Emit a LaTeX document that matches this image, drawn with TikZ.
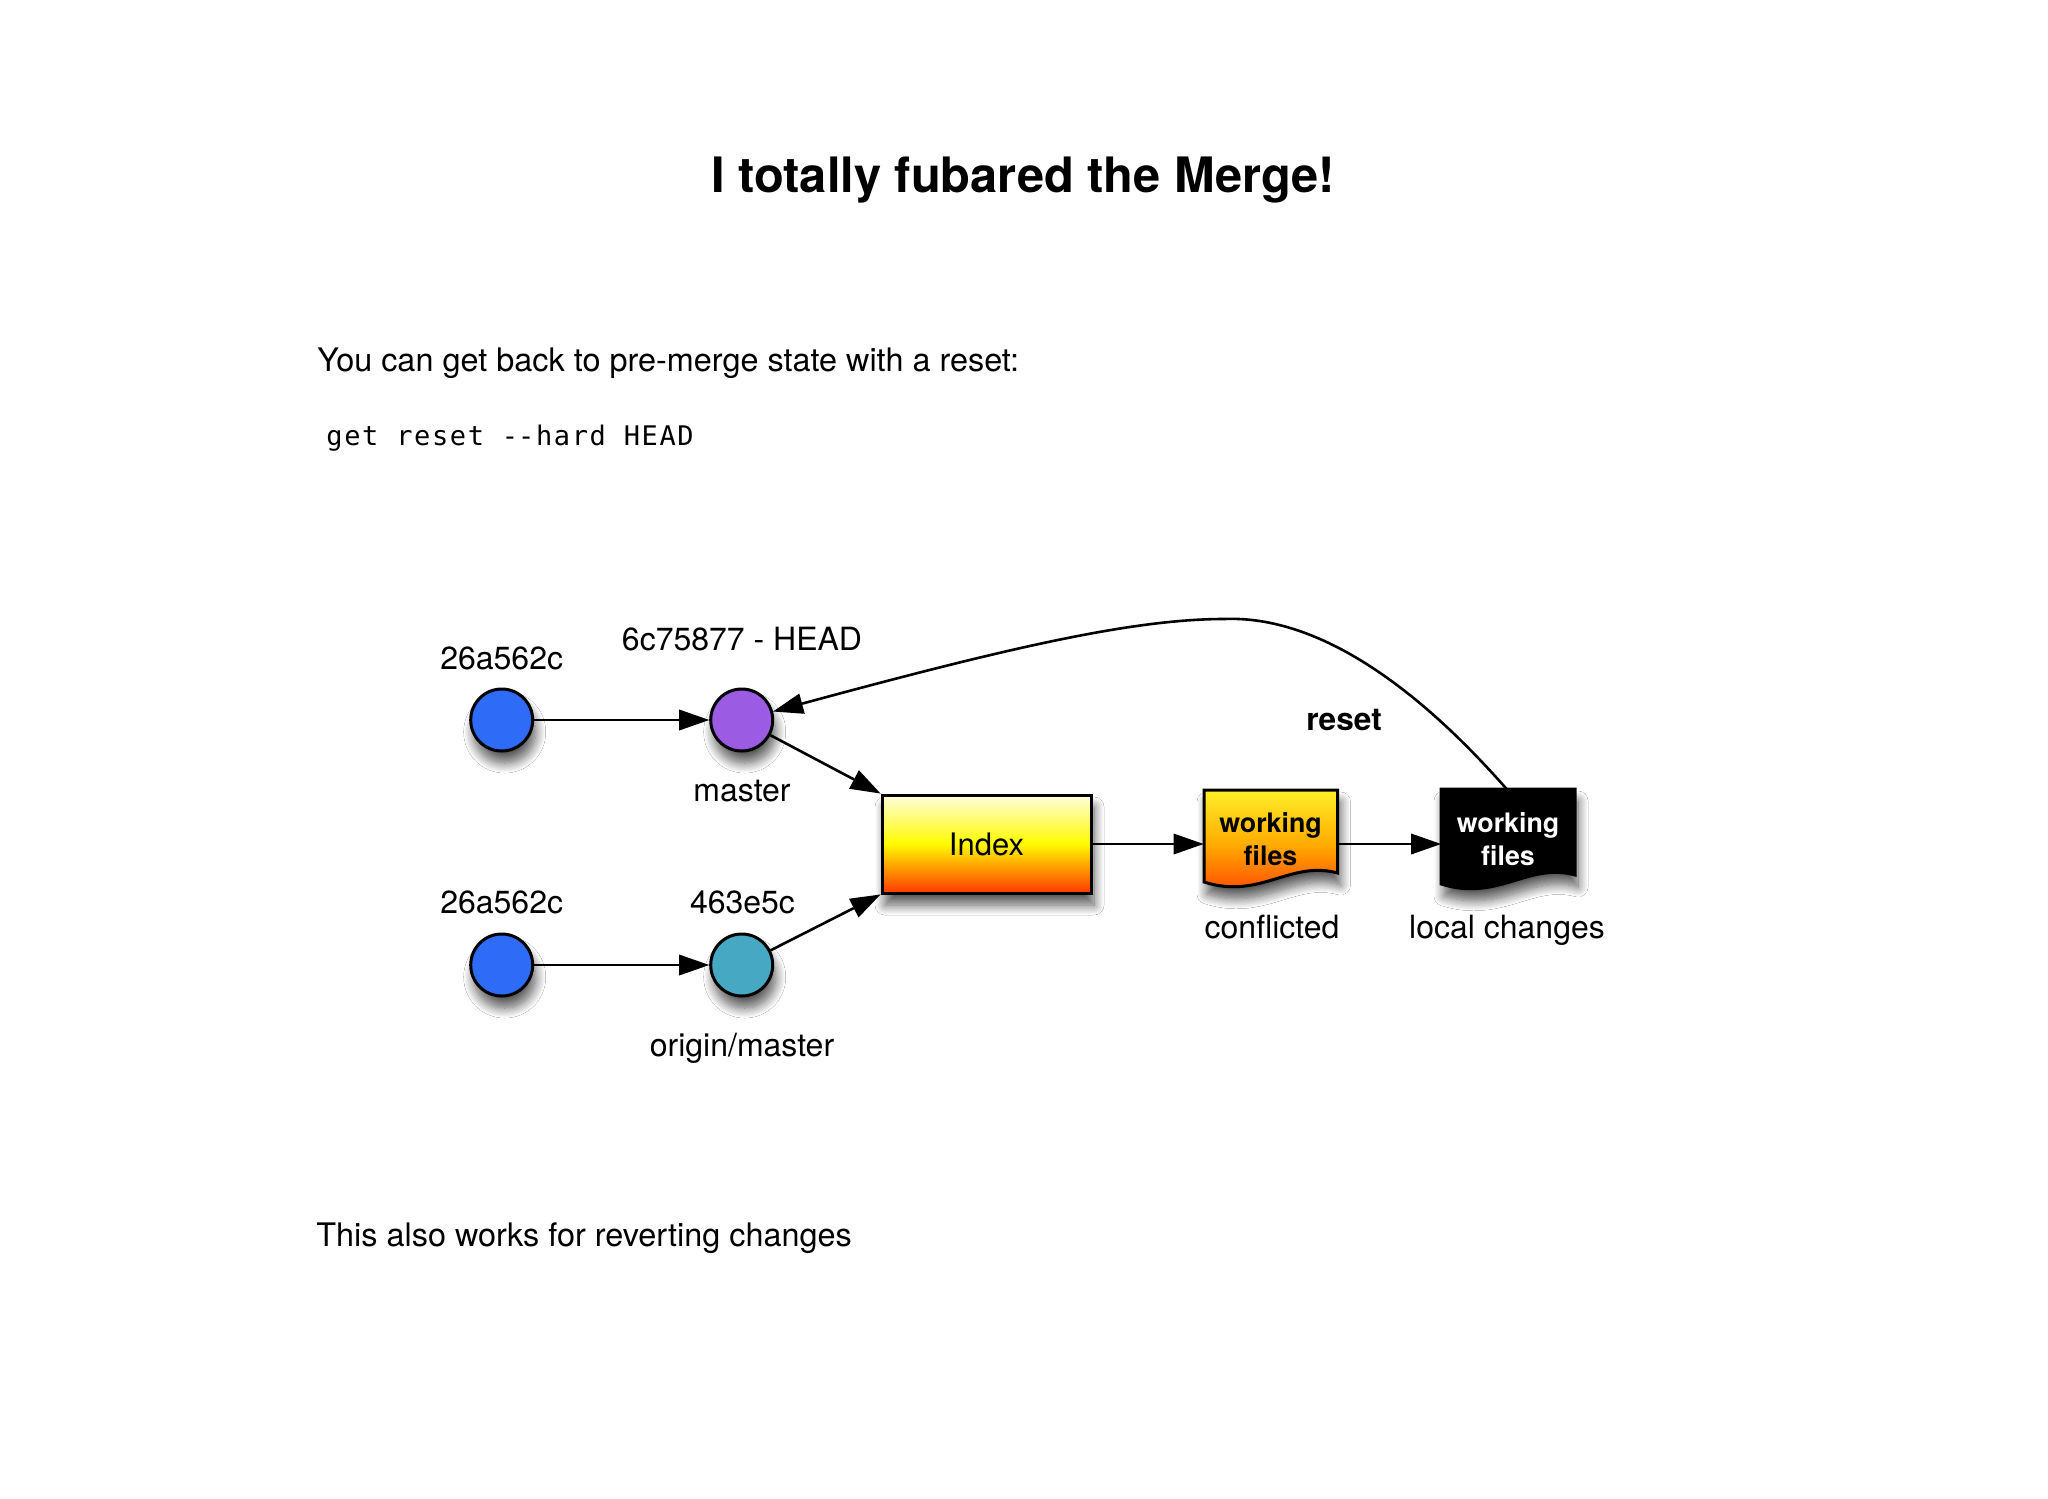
\documentclass[tikz,border=0pt]{standalone}
\usepackage{fontspec}
\setmainfont{TeX Gyre Heros}
\newfontfamily\codefont{DejaVu Sans Mono}[LetterSpace=6]
\usetikzlibrary{arrows.meta,shadows.blur}
\definecolor{cblue}{RGB}{46,108,247}
\definecolor{cpurple}{RGB}{155,91,227}
\definecolor{cteal}{RGB}{71,168,196}
\definecolor{idxtop}{RGB}{255,255,220}
\definecolor{idxmid}{RGB}{255,250,0}
\definecolor{idxbot}{RGB}{255,55,0}
\definecolor{wftop}{RGB}{255,240,40}
\definecolor{wfmid}{RGB}{255,170,0}
\definecolor{wfbot}{RGB}{255,60,0}
\begin{document}
\begin{tikzpicture}[x=0.5pt,y=-0.5pt,
  softshadow/.style={blur shadow={shadow xshift=1.5pt, shadow yshift=-6pt, shadow blur radius=5pt, shadow opacity=65, shadow blur steps=12}},
  commit/.style={circle, draw=black, line width=1.5pt, minimum size=31pt, inner sep=0pt, softshadow},
  lbl/.style={anchor=base, inner sep=0pt, font=\fontsize{16}{19}\selectfont},
  body/.style={anchor=base west, inner sep=0pt, font=\fontsize{16.2}{19}\selectfont},
  arr/.style={-{Triangle[length=15pt,width=10.5pt,fill=black,line width=0pt]}, draw=black, line width=1.3pt},
  docnode/.style={minimum width=66.5pt, minimum height=48pt, inner sep=0pt, align=center, font=\fontsize{13.4}{16.5}\selectfont\bfseries},
  docshape/.style={draw=black, line width=1.5pt, softshadow}]
\useasboundingbox[fill=white] (0,0) rectangle (2048,1498);

% title and texts
\node[anchor=base, inner sep=0pt, font=\fontsize{24.4}{28}\selectfont\bfseries] (title) at (1023,193) {I totally fubared the Merge!};
\node[body] (intro) at (317,371.7) {You can get back to pre-merge state with a reset:};
\node[anchor=base west, inner sep=0pt, font=\fontsize{13.5}{16}\codefont] (cmd) at (326,445) {get reset -\kern0pt-hard HEAD};
\node[body] (outro) at (316,1246.5) {This also works for reverting changes};

% commits
\node[commit, fill=cblue] (a1) at (501.7,720) {};
\node[commit, fill=cpurple] (head) at (741.7,720) {};
\node[commit, fill=cblue] (a2) at (501.7,965) {};
\node[commit, fill=cteal] (orig) at (741.7,965) {};

\node[lbl] (la1) at (501.7,669.3) {26a562c};
\node[lbl] (lhead) at (742,650.7) {6c75877 - HEAD};
\node[lbl] (lmaster) at (742,801.7) {master};
\node[lbl] (la2) at (501.7,913.3) {26a562c};
\node[lbl] (lorig) at (742.5,913.3) {463e5c};
\node[lbl] (lorigm) at (742,1056) {origin/master};

% index
\node[draw=black, line width=1.5pt, minimum width=104.5pt, minimum height=49pt, inner sep=0pt,
  top color=idxtop, bottom color=idxbot, middle color=idxmid, softshadow,
  font=\fontsize{15.5}{18}\selectfont] (idx) at (986.5,844) {Index};

% document shapes
\path[docshape, top color=wftop, bottom color=wfbot, middle color=wfmid]
  (1204,790) -- (1337.5,790) -- (1337.5,873) .. controls (1290,860) and (1260,900) .. (1204,882) -- cycle;
\path[docshape, fill=black]
  (1441,789) -- (1575,789) -- (1575,875) .. controls (1528,862) and (1498,902) .. (1441,884) -- cycle;

\node[docnode] (wf1) at (1270.5,839) {working\\files};
\node[docnode, text=white] (bk) at (1508,839) {working\\files};

\node[lbl] (lconf) at (1272,938) {conflicted};
\node[lbl] (llocal) at (1507,938) {local changes};

% connectors
\draw[arr] (a1) -- (head);
\draw[arr] (a2) -- (orig);
\draw[arr] (head) -- (idx.north west);
\draw[arr] (orig) -- (idx.south west);
\draw[arr] (idx.east) -- (idx.east -| wf1.west);
\draw[arr] (wf1.east |- idx.east) -- (idx.east -| bk.west);
\draw[arr] (bk.north) .. controls (1420,690) and (1320,615) .. (1224,619)
  .. controls (1130,619) and (1000,650) .. (head);
\node[anchor=base, inner sep=0pt, font=\fontsize{15.8}{18}\selectfont\bfseries] (lreset) at (1344,730) {reset};
\end{tikzpicture}
\end{document}
